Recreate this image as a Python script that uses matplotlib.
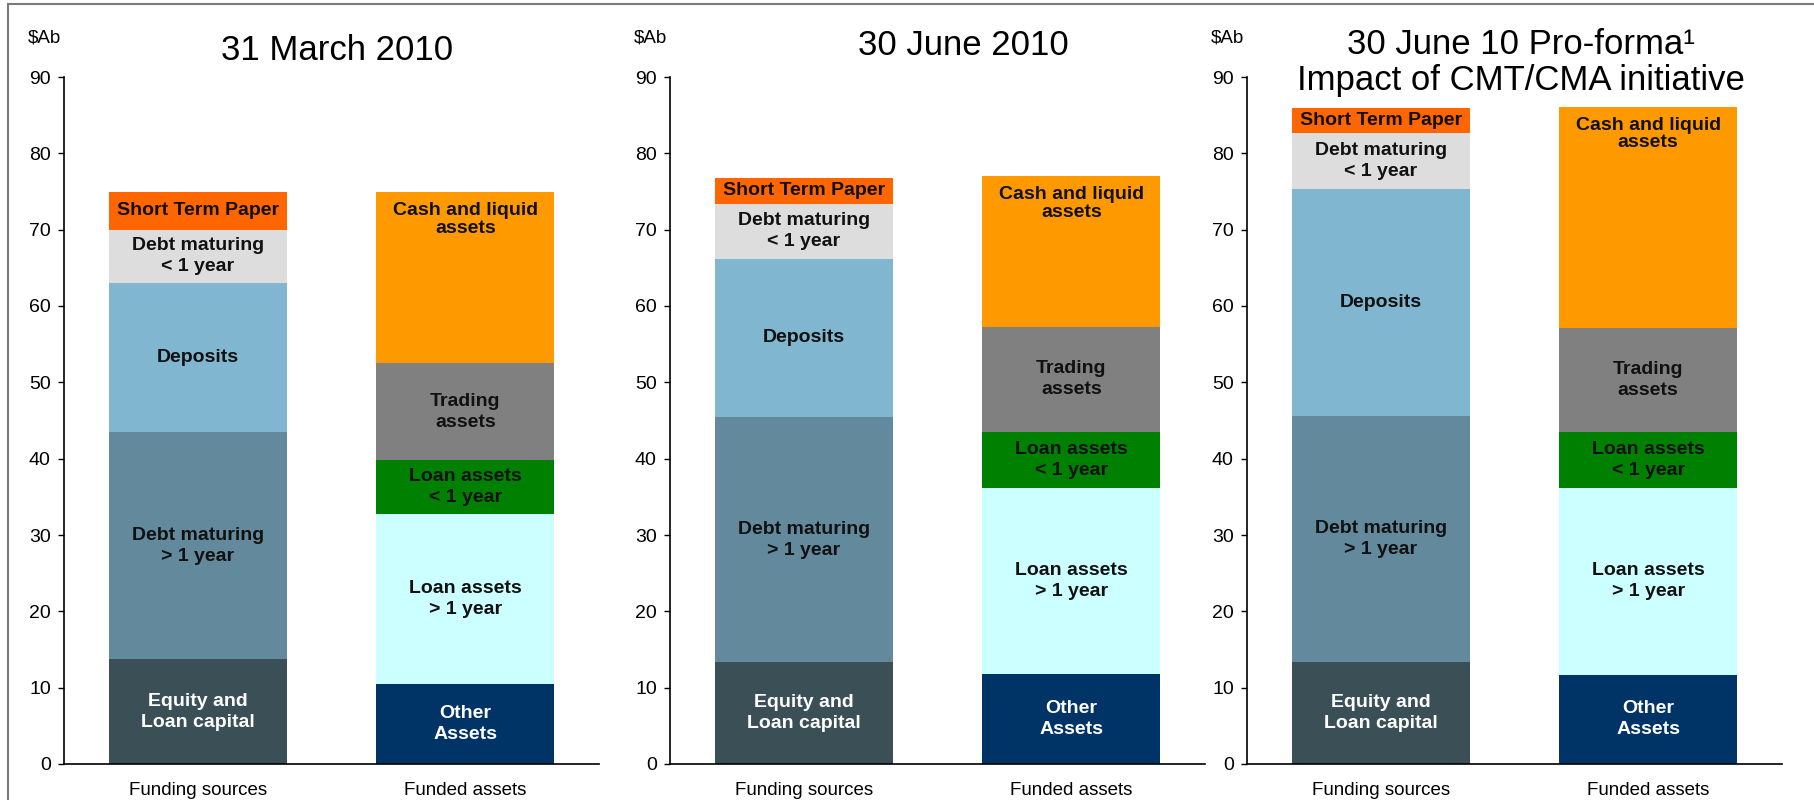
import matplotlib.pyplot as plt
from matplotlib.lines import Line2D

plt.rcParams['font.family'] = ['Liberation Sans', 'DejaVu Sans']

# data ($Ab)
titles = ['31 March 2010', '30 June 2010',
          '30 June 10 Pro-forma\u00b9\nImpact of CMT/CMA initiative']
bar_names = ['Funding sources', 'Funded assets']

funding_labels = ['Equity and\nLoan capital', 'Debt maturing\n> 1 year', 'Deposits',
                  'Debt maturing\n< 1 year', 'Short Term Paper']
funding_colors = ['#3A5056', '#628A9C', '#80B6CF', '#DDDDDD', '#FF6600']
funding_text = ['white', '#111111', '#111111', '#111111', '#111111']
funding_mar = [13.7, 29.8, 19.5, 7.0, 4.9]
funding_jun = [13.3, 32.2, 20.7, 7.2, 3.4]
funding_pro = [13.4, 32.2, 29.7, 7.3, 3.4]

asset_labels = ['Other\nAssets', 'Loan assets\n> 1 year', 'Loan assets\n< 1 year',
                'Trading\nassets', 'Cash and liquid\nassets']
asset_colors = ['#003366', '#CCFFFF', '#008000', '#808080', '#FF9900']
asset_text = ['white', '#111111', '#111111', '#111111', '#111111']
assets_mar = [10.5, 22.3, 7.0, 12.7, 22.4]
assets_jun = [11.8, 24.4, 7.3, 13.8, 19.7]
assets_pro = [11.7, 24.5, 7.3, 13.6, 29.0]

funding = [funding_mar, funding_jun, funding_pro]
assets = [assets_mar, assets_jun, assets_pro]

# layout (pixels)
W, H = 1814, 800
ax_left = [64, 670, 1247]
ax_width = 535
y_bot, y_top = 764, 77
title_x = [337, 963, 1521]
title_base = [60, 55, 54]

fig = plt.figure(figsize=(W / 100, H / 100), dpi=100)

# frame lines at the left and top of the slide
fig.add_artist(Line2D([8 / W, 8 / W], [0, 1 - 4 / H], transform=fig.transFigure,
                      color='#7a7a7a', lw=1.5))
fig.add_artist(Line2D([8 / W, 1], [1 - 4 / H, 1 - 4 / H], transform=fig.transFigure,
                      color='#7a7a7a', lw=1.5))


def stack(ax, x, vals, colors, labels, tcolors):
    bottom = 0
    for v, c, lab, tc in zip(vals, colors, labels, tcolors):
        ax.bar(x, v, bottom=bottom, width=0.667, color=c, linewidth=0)
        if lab.startswith('Cash'):
            ax.text(x, bottom + v - 1.3, lab, ha='center', va='top', fontsize=14,
                    fontweight='bold', color=tc, linespacing=1.05)
        else:
            ax.text(x, bottom + v / 2, lab, ha='center', va='center', fontsize=14,
                    fontweight='bold', color=tc, linespacing=1.3)
        bottom += v


for i in range(3):
    ax = fig.add_axes([ax_left[i] / W, 1 - y_bot / H, ax_width / W, (y_bot - y_top) / H])
    stack(ax, 0, funding[i], funding_colors, funding_labels, funding_text)
    stack(ax, 1, assets[i], asset_colors, asset_labels, asset_text)
    ax.set_xlim(-0.5, 1.5)
    ax.set_ylim(0, 90)
    ax.set_yticks(range(0, 91, 10))
    ax.set_xticks([0, 1])
    ax.set_xticklabels(bar_names, fontsize=13.5)
    ax.tick_params(axis='x', length=0, pad=13)
    ax.tick_params(axis='y', labelsize=14, length=4.5, width=1, pad=5)
    for s in ['top', 'right']:
        ax.spines[s].set_visible(False)
    for s in ['left', 'bottom']:
        ax.spines[s].set_linewidth(1.2)

    fig.text((ax_left[i] - 20) / W, 1 - 43 / H, '$Ab', ha='center', va='baseline',
             fontsize=13.5)
    for j, line in enumerate(titles[i].split('\n')):
        fig.text(title_x[i] / W, 1 - (title_base[i] + j * 36) / H, line,
                 ha='center', va='baseline', fontsize=25)

fig.savefig('out.png', dpi=100)
